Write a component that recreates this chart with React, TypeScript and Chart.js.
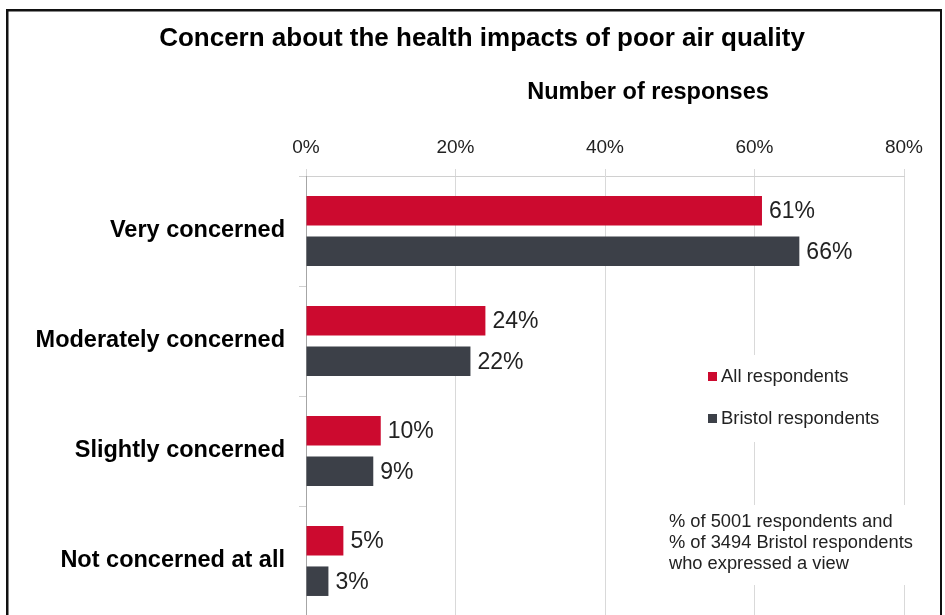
import React, { useEffect, useRef } from "react";
import { Chart, registerables } from "chart.js";
Chart.register(...registerables);

const chartTitle = "Concern about the health impacts of poor air quality";
const axisTitle = "Number of responses";
const categories = ["Very concerned", "Moderately concerned", "Slightly concerned", "Not concerned at all"];
const allRespondents = [61, 24, 10, 5];
const bristolRespondents = [66, 22, 9, 3];
const seriesNames = ["All respondents", "Bristol respondents"];
const xTickValues = [0, 20, 40, 60, 80];
const noteLines = ["% of 5001 respondents and", "% of 3494 Bristol respondents", "who expressed a view"];
const seriesColors = ["#CC0A2F", "#3C4048"];

const FONT = "'Liberation Sans', Arial, sans-serif";

const overlay = {
  id: "overlay",
  afterDatasetsDraw(chart: any) {
    const { ctx } = chart;
    ctx.save();
    // data labels
    ctx.font = `23px ${FONT}`;
    ctx.fillStyle = "#222222";
    ctx.textAlign = "left";
    ctx.textBaseline = "middle";
    chart.data.datasets.forEach((ds: any, di: number) => {
      const meta = chart.getDatasetMeta(di);
      meta.data.forEach((bar: any, i: number) => {
        ctx.fillText(ds.data[i] + "%", bar.x + 7, bar.y + 1);
      });
    });
    // legend box
    ctx.fillStyle = "#ffffff";
    ctx.fillRect(698, 355, 197, 87);
    ctx.font = `18.5px ${FONT}`;
    seriesNames.forEach((name, i) => {
      const y = 377 + i * 42;
      ctx.fillStyle = seriesColors[i];
      ctx.fillRect(708, y - 5, 9, 9);
      ctx.fillStyle = "#222222";
      ctx.fillText(name, 721, y);
    });
    // note box
    ctx.fillStyle = "#ffffff";
    ctx.fillRect(662, 505, 272, 80);
    ctx.fillStyle = "#222222";
    ctx.font = `18.3px ${FONT}`;
    noteLines.forEach((line, i) => {
      ctx.fillText(line, 669, 522 + i * 21);
    });
    ctx.restore();
  },
  afterDraw(chart: any) {
    const { ctx } = chart;
    ctx.save();
    ctx.fillStyle = "#000000";
    ctx.textAlign = "center";
    ctx.textBaseline = "middle";
    ctx.font = `bold 26px ${FONT}`;
    ctx.fillText(chartTitle, 482, 39);
    ctx.font = `bold 23.5px ${FONT}`;
    ctx.fillText(axisTitle, 648, 93);
    // frame
    ctx.fillStyle = "#111111";
    ctx.fillRect(6, 9, 936, 2.5);
    ctx.fillRect(6, 9, 2.5, 660);
    ctx.fillRect(940, 9, 2, 660);
    ctx.restore();
  },
};

export default function App() {
  const ref = useRef<HTMLCanvasElement | null>(null);
  useEffect(() => {
    if (!ref.current) return;
    const chart = new Chart(ref.current, {
      type: "bar",
      data: {
        labels: categories,
        datasets: [
          {
            label: seriesNames[0],
            data: allRespondents,
            backgroundColor: seriesColors[0],
            categoryPercentage: 0.735,
            barPercentage: 0.73,
          },
          {
            label: seriesNames[1],
            data: bristolRespondents,
            backgroundColor: seriesColors[1],
            categoryPercentage: 0.735,
            barPercentage: 0.73,
          },
        ],
      },
      options: {
        indexAxis: "y",
        responsive: false,
        animation: false,
        layout: { padding: { top: 0, left: 0, right: 41, bottom: 44 } },
        plugins: {
          legend: { display: false },
          title: { display: false },
          tooltip: { enabled: false },
        },
        scales: {
          x: {
            type: "linear",
            position: "top",
            min: 0,
            max: 80,
            afterBuildTicks: (scale: any) => {
              scale.ticks = xTickValues.map((v) => ({ value: v }));
            },
            afterFit: (scale: any) => {
              scale.height = 176;
            },
            ticks: {
              callback: (v: any) => v + "%",
              font: { family: FONT, size: 19 },
              color: "#222222",
              padding: 10,
            },
            grid: { color: "#D9D9D9", tickLength: 7, lineWidth: 1 },
            border: { color: "#D0D0D0" },
          },
          y: {
            afterFit: (scale: any) => {
              scale.width = 306;
              scale.paddingTop = 0;
              scale.paddingBottom = 0;
            },
            ticks: {
              font: { family: FONT, size: 23.5, weight: "bold" },
              color: "#000000",
              padding: 14,
            },
            grid: { drawOnChartArea: false, tickLength: 7, color: "#D0D0D0", offset: true },
            border: { color: "#A6A6A6" },
          },
        },
      },
      plugins: [overlay],
    } as any);
    return () => chart.destroy();
  }, []);
  return (
    <div style={{ position: "absolute", left: 0, top: 0, width: 945, height: 615, overflow: "hidden", background: "#fff" }}>
      <canvas ref={ref} width={945} height={660} />
    </div>
  );
}
